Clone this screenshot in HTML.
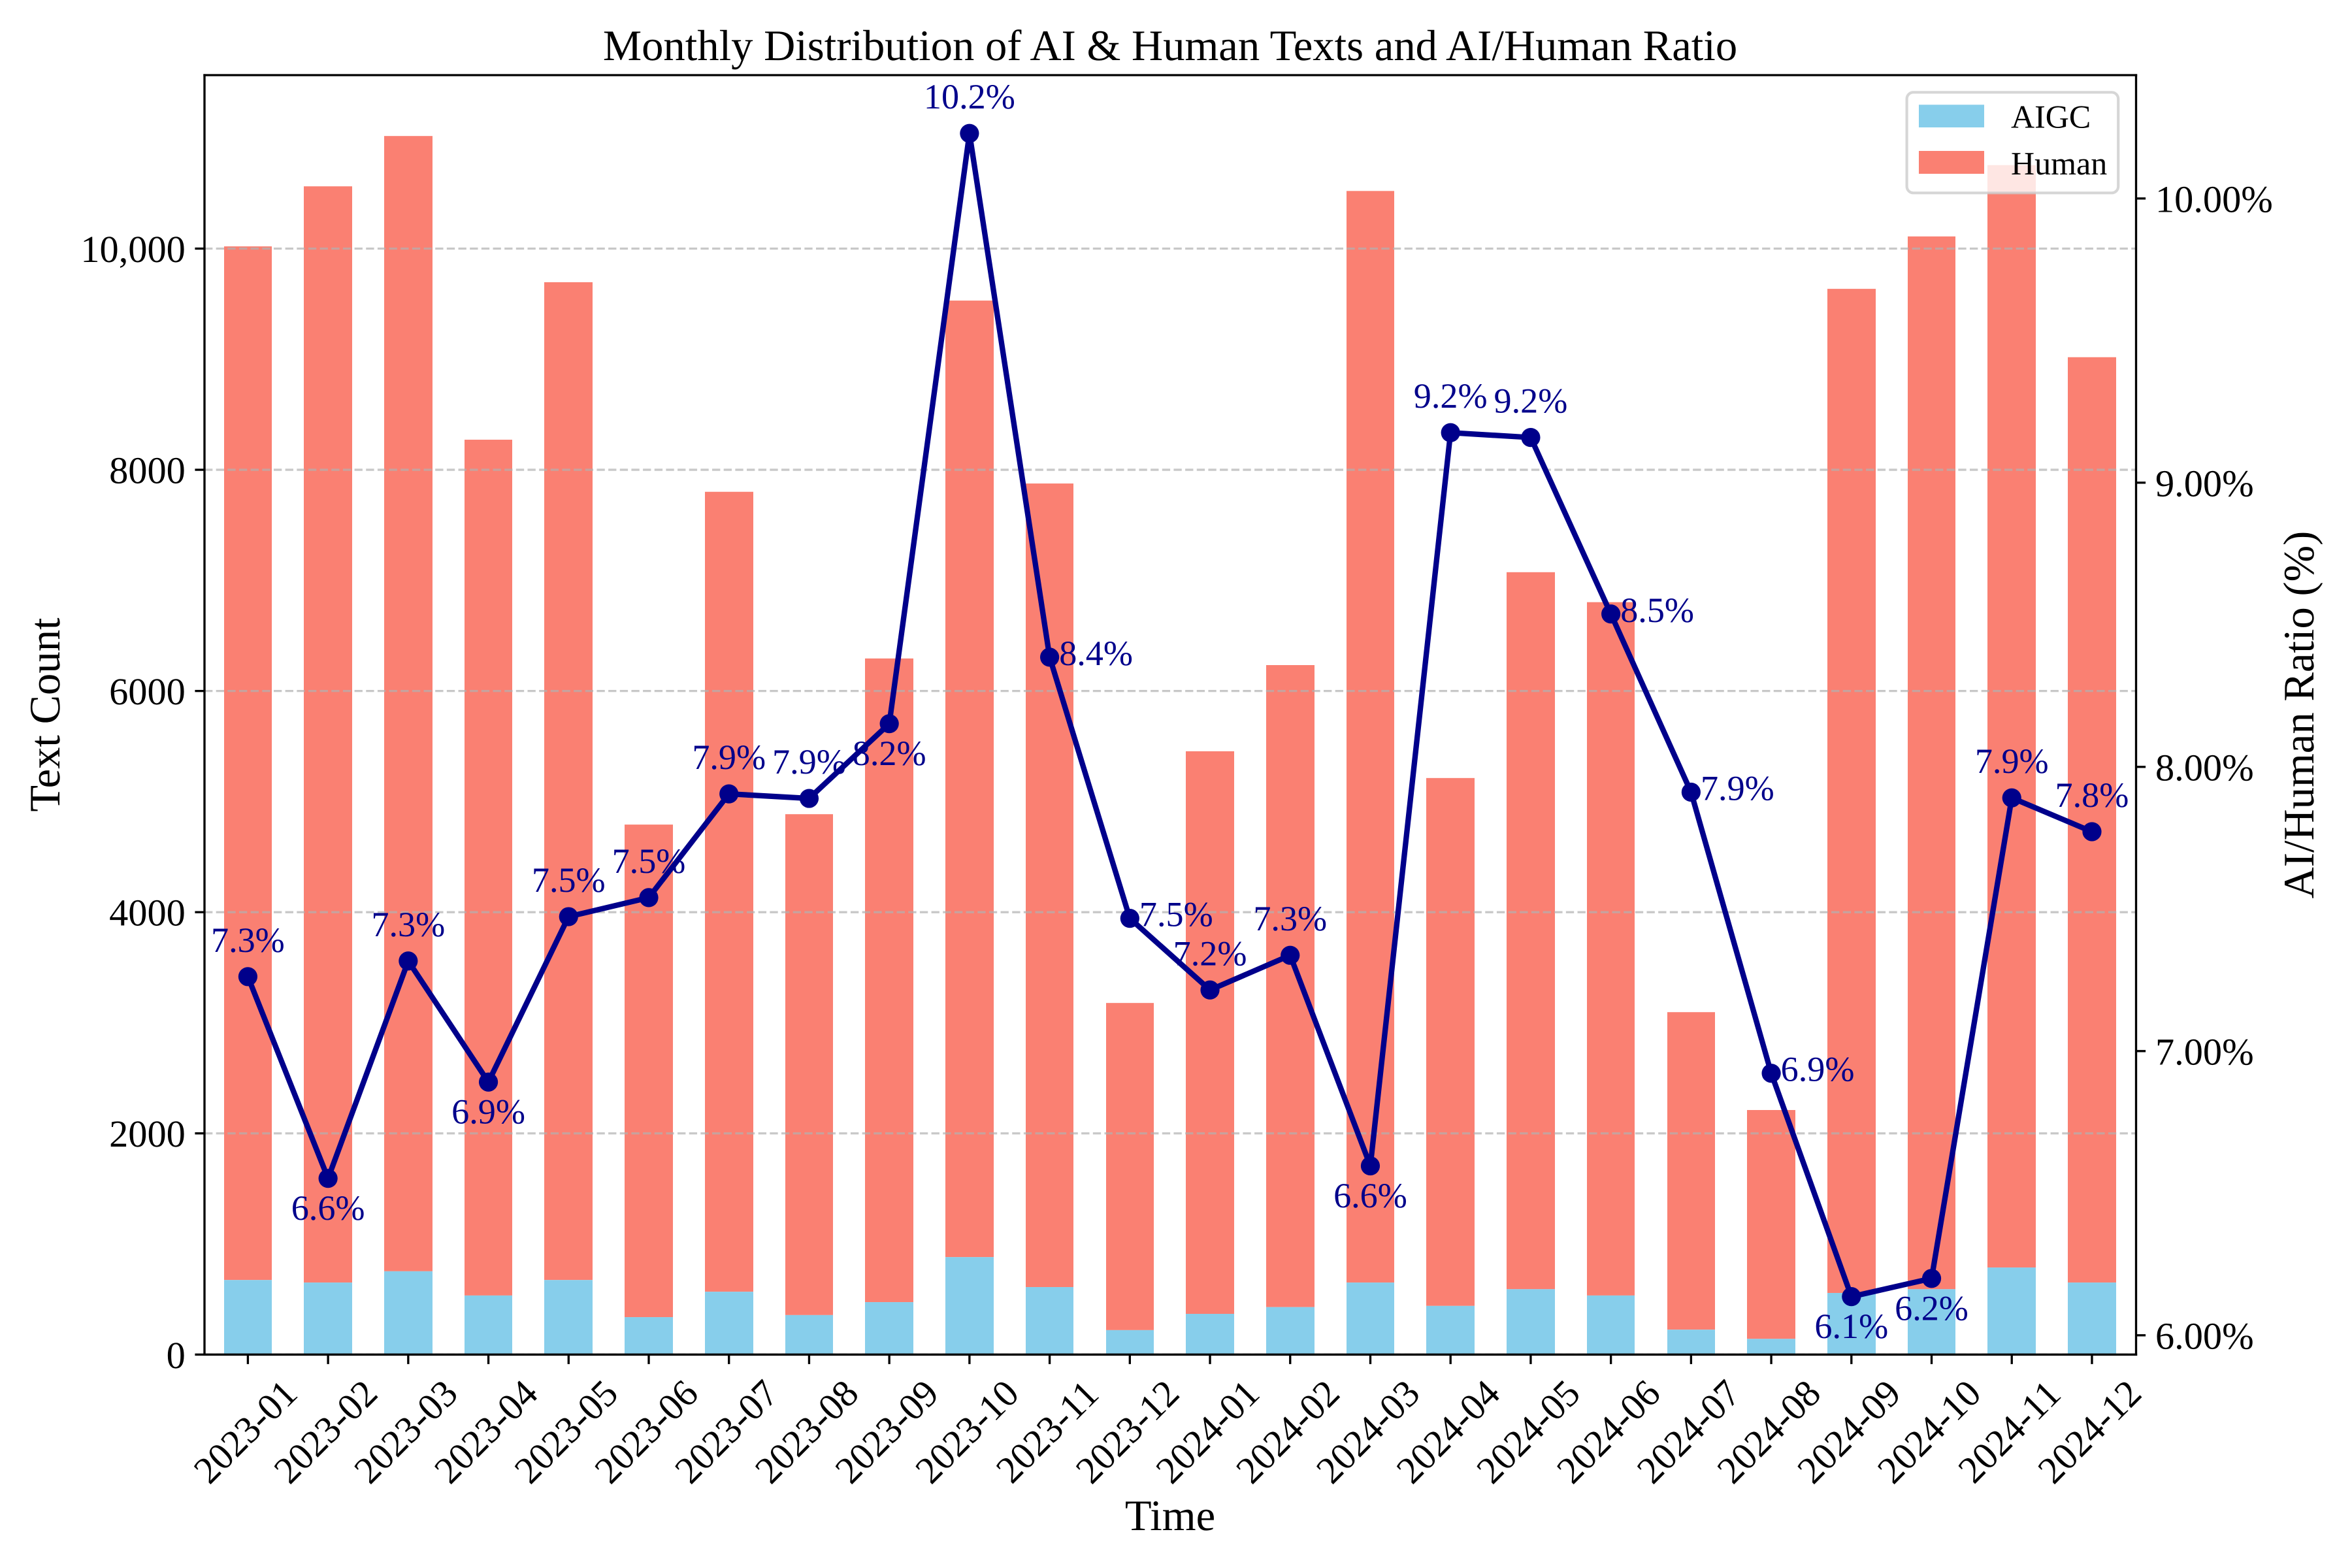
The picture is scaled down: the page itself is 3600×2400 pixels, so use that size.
<!DOCTYPE html>
<html lang="en">
<head>
<meta charset="utf-8">
<title>Monthly Distribution of AI &amp; Human Texts and AI/Human Ratio</title>
<style>
  html, body { margin: 0; padding: 0; background: #fff; }
  svg { display: block; font-family: "Liberation Serif", "Times New Roman", serif; text-rendering: geometricPrecision; }
</style>
</head>
<body>
<svg xmlns="http://www.w3.org/2000/svg" width="3600" height="2400" viewBox="0 0 3600 2400">
  <rect x="0" y="0" width="3600" height="2400" fill="#ffffff"/>
  <text x="1791" y="92" font-size="66.67" text-anchor="middle" fill="#000">Monthly Distribution of AI &amp; Human Texts and AI/Human Ratio</text>
  <g id="bars"></g>
  <g id="grid"></g>
  <g id="axes"></g>
  <g id="legend">
    <rect x="2918.6" y="141.3" width="323.6" height="154" rx="10" ry="10" fill="#ffffff" fill-opacity="0.8" stroke="#cccccc" stroke-opacity="0.8" stroke-width="4.17"/>
    <rect x="2937" y="160.3" width="100" height="34.7" fill="#87CEEB"/>
    <text x="3078" y="195.4" font-size="50" fill="#000">AIGC</text>
    <rect x="2937" y="231" width="100" height="35" fill="#FA8072"/>
    <text x="3078" y="266.8" font-size="50" fill="#000">Human</text>
  </g>
  <g id="ratio"></g>
  <text transform="translate(1791 2342)" font-size="66.67" text-anchor="middle" fill="#000">Time</text>
  <text transform="translate(91 1094) rotate(-90)" font-size="66.67" text-anchor="middle" fill="#000">Text Count</text>
  <text transform="translate(3541 1094) rotate(-90)" font-size="66.67" text-anchor="middle" fill="#000">AI/Human Ratio (%)</text>
</svg>
<script>
const months = ['2023-01','2023-02','2023-03','2023-04','2023-05','2023-06','2023-07','2023-08','2023-09','2023-10','2023-11','2023-12','2024-01','2024-02','2024-03','2024-04','2024-05','2024-06','2024-07','2024-08','2024-09','2024-10','2024-11','2024-12'];
const aigcCounts = [674,651,753,534,674,338,568,357,474,881,610,221,368,429,651,440,591,534,225,142,557,591,787,651];
const humanCounts = [9346,9912,10265,7738,9022,4454,7233,4529,5820,8649,7266,2958,5087,5805,9870,4773,6483,6269,2871,2069,9079,9519,9968,8367];
const ratioValues = [7.262,6.552,7.317,6.891,7.473,7.540,7.905,7.889,8.152,10.229,8.386,7.467,7.215,7.337,6.596,9.176,9.159,8.538,7.911,6.922,6.136,6.200,7.891,7.772];
const ratioLabels = ['7.3%','6.6%','7.3%','6.9%','7.5%','7.5%','7.9%','7.9%','8.2%','10.2%','8.4%','7.5%','7.2%','7.3%','6.6%','9.2%','9.2%','8.5%','7.9%','6.9%','6.1%','6.2%','7.9%','7.8%'];
const labelSides = ['above','below','above','below','above','above','above','above','below','above','right','right','above','above','below','above','above','right','right','right','below','below','above','above'];
const countTicks = [0,2000,4000,6000,8000,10000];
const countTickLabels = ['0','2000','4000','6000','8000','10,000'];
const ratioTicks = [6,7,8,9,10];
const ratioTickLabels = ['6.00%','7.00%','8.00%','9.00%','10.00%'];

const NS = 'http://www.w3.org/2000/svg';
const plot = { left: 313, right: 3269.5, top: 115, bottom: 2073.3 };
const xScale = i => 379.4 + 122.72 * i;
const yCount = v => plot.bottom - v * 0.16928;
const yRatio = r => 303.8 + (10 - r) * 435;

function make(parent, tag, attrs, text) {
  const node = document.createElementNS(NS, tag);
  for (const key in attrs) node.setAttribute(key, attrs[key]);
  if (text !== undefined) node.textContent = text;
  parent.appendChild(node);
  return node;
}
const barsGroup = document.getElementById('bars');
const gridGroup = document.getElementById('grid');
const axesGroup = document.getElementById('axes');
const ratioGroup = document.getElementById('ratio');
const barWidth = 73.6;

months.forEach((month, i) => {
  const left = Math.round(xScale(i) - barWidth / 2);
  const right = Math.round(xScale(i) + barWidth / 2);
  const aTop = yCount(aigcCounts[i]);
  const hTop = yCount(aigcCounts[i] + humanCounts[i]);
  const human = make(barsGroup, 'rect', { x: left, y: hTop, width: right - left, height: aTop - hTop, fill: '#FA8072' });
  
  
  const aigc = make(barsGroup, 'rect', { x: left, y: aTop, width: right - left, height: plot.bottom - aTop, fill: '#87CEEB' });
  
  
});

countTicks.forEach((tick, i) => {
  const y = yCount(tick);
  const gridLine = make(gridGroup, 'line', { x1: plot.left, x2: plot.right, y1: y, y2: y, stroke: '#b0b0b0', 'stroke-opacity': 0.7, 'stroke-width': 3.33, 'stroke-dasharray': '12.33 5.33' });
  
  
  const tickMark = make(axesGroup, 'line', { x1: plot.left - 14.6, x2: plot.left, y1: y, y2: y, stroke: '#000', 'stroke-width': 3.33 });
  
  
  const tickLabel = make(axesGroup, 'text', { x: plot.left - 29.2, y: y + 20.5, 'font-size': 58.33, 'text-anchor': 'end', fill: '#000' }, countTickLabels[i]);
  
  
});

ratioTicks.forEach((tick, i) => {
  const y = yRatio(tick);
  const tickMark = make(axesGroup, 'line', { x1: plot.right, x2: plot.right + 14.6, y1: y, y2: y, stroke: '#000', 'stroke-width': 3.33 });
  
  
  const tickLabel = make(axesGroup, 'text', { x: plot.right + 29.5, y: y + 20.5, 'font-size': 58.33, 'text-anchor': 'start', fill: '#000' }, ratioTickLabels[i]);
  
  
});

months.forEach((month, i) => {
  const x = xScale(i);
  const tickMark = make(axesGroup, 'line', { x1: x, x2: x, y1: plot.bottom, y2: plot.bottom + 14.6, stroke: '#000', 'stroke-width': 3.33 });
  
  
  const tickLabel = make(axesGroup, 'text', { transform: 'translate(' + (x + 10) + ' 2205) rotate(-45)', 'font-size': 58.33, 'text-anchor': 'middle', fill: '#000' }, month);
  
  
});

[['left', plot.left, plot.top, plot.left, plot.bottom], ['right', plot.right, plot.top, plot.right, plot.bottom], ['top', plot.left, plot.top, plot.right, plot.top], ['bottom', plot.left, plot.bottom, plot.right, plot.bottom]].forEach(s => {
  const spine = make(axesGroup, 'line', { x1: s[1], y1: s[2], x2: s[3], y2: s[4], stroke: '#000', 'stroke-width': 3.33, 'stroke-linecap': 'square' });
  
  
});

const ratioPath = ratioValues.map((r, i) => xScale(i) + ',' + yRatio(r)).join(' ');
const ratioLine = make(ratioGroup, 'polyline', { points: ratioPath, fill: 'none', stroke: '#00008B', 'stroke-width': 8.33, 'stroke-linejoin': 'round', 'stroke-linecap': 'butt' });



ratioValues.forEach((r, i) => {
  const x = xScale(i);
  const y = yRatio(r);
  const point = make(ratioGroup, 'circle', { cx: x, cy: y, r: 14.6, fill: '#00008B' });
  
  
});

ratioValues.forEach((r, i) => {
  const side = labelSides[i];
  const dx = side === 'right' ? 71 : 0;
  const dy = side === 'above' ? -38 : side === 'below' ? 63.5 : 12;
  const label = make(ratioGroup, 'text', { x: xScale(i) + dx, y: yRatio(r) + dy, 'font-size': 54.17, 'text-anchor': 'middle', fill: '#00008B' }, ratioLabels[i]);
  
  
});
</script>
</body>
</html>
